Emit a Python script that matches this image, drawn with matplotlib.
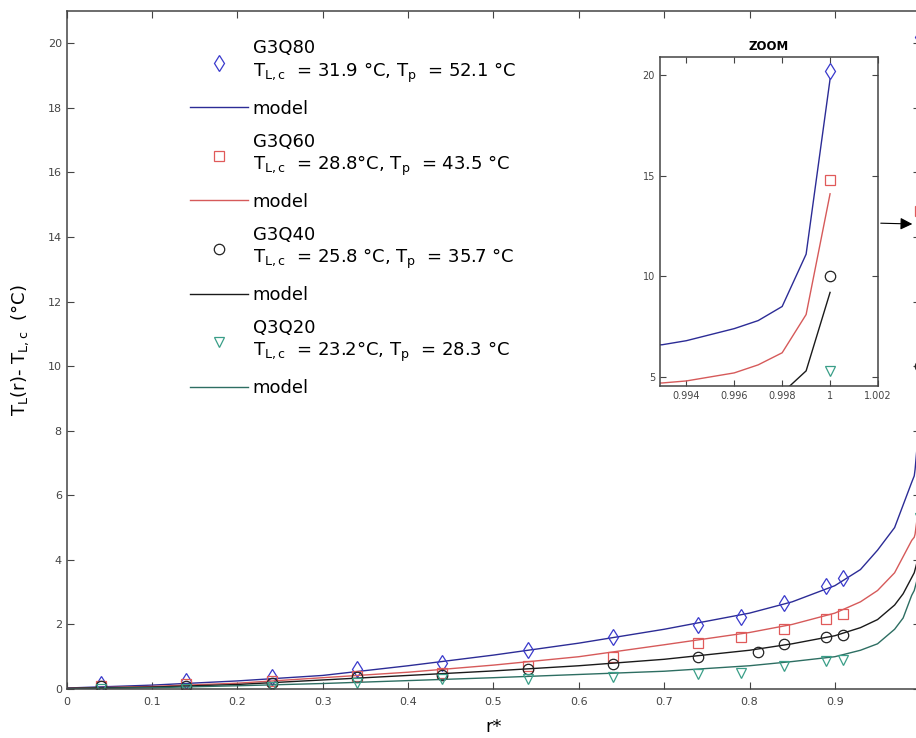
import matplotlib
matplotlib.use('Agg')
import matplotlib.pyplot as plt
from matplotlib.lines import Line2D

plt.rcParams['font.family'] = 'DejaVu Sans'
plt.rcParams['mathtext.fontset'] = 'dejavusans'
plt.rcParams['mathtext.default'] = 'regular'

# measured points (r*, T_L(r) - T_L,c)
r_data = [0.04, 0.14, 0.24, 0.34, 0.44, 0.54, 0.64, 0.74, 0.79, 0.84, 0.89, 0.91, 1.0]
r_data_40 = [0.04, 0.14, 0.24, 0.34, 0.44, 0.54, 0.64, 0.74, 0.81, 0.84, 0.89, 0.91, 1.0]
g3q80 = [0.15, 0.25, 0.38, 0.62, 0.82, 1.22, 1.6, 1.98, 2.22, 2.65, 3.18, 3.45, 20.2]
g3q60 = [0.1, 0.15, 0.25, 0.4, 0.5, 0.72, 1.0, 1.42, 1.62, 1.87, 2.18, 2.33, 14.8]
g3q40 = [0.08, 0.1, 0.2, 0.38, 0.42, 0.62, 0.76, 1.0, 1.15, 1.38, 1.62, 1.67, 10.0]
q3q20 = [0.0, 0.0, 0.05, 0.2, 0.3, 0.3, 0.36, 0.45, 0.5, 0.7, 0.88, 0.9, 5.3]

# model curves
r_model = [0, 0.1, 0.2, 0.3, 0.4, 0.5, 0.6, 0.7, 0.8, 0.85, 0.9, 0.93, 0.95, 0.97,
           0.98, 0.99, 0.993, 0.994, 0.996, 0.997, 0.998, 0.999, 1.0]
model_80 = [0.03, 0.12, 0.25, 0.42, 0.72, 1.05, 1.42, 1.85, 2.35, 2.7, 3.2, 3.7, 4.3, 5.0,
            5.7, 6.4, 6.6, 6.8, 7.4, 7.8, 8.5, 11.1, 19.8]
model_60 = [0.02, 0.08, 0.18, 0.35, 0.52, 0.74, 1.0, 1.37, 1.75, 2.0, 2.35, 2.7, 3.05, 3.6,
            4.1, 4.6, 4.7, 4.8, 5.2, 5.6, 6.2, 8.1, 14.1]
model_40 = [0.02, 0.06, 0.14, 0.28, 0.42, 0.56, 0.72, 0.92, 1.2, 1.4, 1.65, 1.9, 2.15, 2.6,
            2.95, 3.45, 3.6, 3.7, 3.9, 4.05, 4.2, 5.3, 9.2]
model_20 = [0.01, 0.04, 0.1, 0.17, 0.26, 0.35, 0.45, 0.55, 0.72, 0.85, 1.0, 1.2, 1.4, 1.85,
            2.2, 2.9, 3.05, 3.15, 3.35, 3.5, 3.7, 4.0, 4.4]

labels = ['G3Q80\n$T_{L,c}$  = 31.9 °C, $T_p$  = 52.1 °C',
          'G3Q60\n$T_{L,c}$  = 28.8°C, $T_p$  = 43.5 °C',
          'G3Q40\n$T_{L,c}$  = 25.8 °C, $T_p$  = 35.7 °C',
          'Q3Q20\n$T_{L,c}$  = 23.2°C, $T_p$  = 28.3 °C']

series = [
    (r_data, g3q80, model_80, 'd', 8.5, '#3a3acc', '#2c2c96'),
    (r_data, g3q60, model_60, 's', 6.5, '#e05a5a', '#d65a5a'),
    (r_data_40, g3q40, model_40, 'o', 7.5, '#222222', '#1a1a1a'),
    (r_data, q3q20, model_20, 'v', 7.5, '#3a9e88', '#2d6e62'),
]

fig = plt.figure(figsize=(9.16, 7.38), dpi=100)
ax = fig.add_axes([0.0728, 0.0664, 0.9318, 0.9187])
ax_in = fig.add_axes([0.7205, 0.477, 0.238, 0.4458])

handles = []
for (rx, ys, ym, mk, ms, mc, lc), lab in zip(series, labels):
    for a in (ax, ax_in):
        a.plot(r_model, ym, '-', color=lc, lw=1.0)
        a.plot(rx, ys, linestyle='none', marker=mk, ms=ms,
               mfc='none', mec=mc, mew=0.9)
    handles.append(Line2D([], [], linestyle='none', marker=mk, ms=ms,
                          mfc='none', mec=mc, mew=0.9))
    handles.append(Line2D([], [], color=lc, lw=1.0))

leg_labels = []
for lab in labels:
    leg_labels += [lab, 'model']

ax.legend(handles, leg_labels, loc='upper left', bbox_to_anchor=(0.1445, 0.958),
          frameon=False, fontsize=13, handlelength=3.2, handletextpad=0.28,
          labelspacing=0.82, borderpad=0, borderaxespad=0)

ax.set_xlim(0, 1)
ax.set_ylim(0, 21)
ax.set_xticks([0, 0.1, 0.2, 0.3, 0.4, 0.5, 0.6, 0.7, 0.8, 0.9, 1])
ax.set_xticklabels(['0', '0.1', '0.2', '0.3', '0.4', '0.5', '0.6', '0.7', '0.8', '0.9', ''])
ax.set_yticks(range(0, 21, 2))
ax.set_xlabel('r*', fontsize=13, labelpad=8)
ax.set_ylabel('T$_L$(r)- T$_{L,c}$  (°C)', fontsize=13, labelpad=12)

ax_in.set_xlim(0.9929, 1.002)
ax_in.set_ylim(4.55, 20.9)
ax_in.set_xticks([0.994, 0.996, 0.998, 1.0, 1.002])
ax_in.set_xticklabels(['0.994', '0.996', '0.998', '1', '1.002'])
ax_in.set_yticks([5, 10, 15, 20])
ax_in.set_title('ZOOM', fontsize=8.5, fontweight='bold', pad=5)

for a in (ax, ax_in):
    a.tick_params(direction='in', top=True, right=True, length=5, width=0.8,
                  labelsize=8, labelcolor='#444444', colors='#444444')
    for s in a.spines.values():
        s.set_color('#444444')
        s.set_linewidth(1.1)
ax.tick_params(axis='x', pad=6)
ax_in.tick_params(labelsize=7, length=4)

# arrow from the zoom box to the wall region
ax.annotate('', xy=(0.994, 14.4), xycoords='data',
            xytext=(1.0, 0.495), textcoords=ax_in.transAxes,
            arrowprops=dict(arrowstyle='-|>', color='k', lw=0.8, mutation_scale=18))

fig.savefig('out.png', dpi=100)
